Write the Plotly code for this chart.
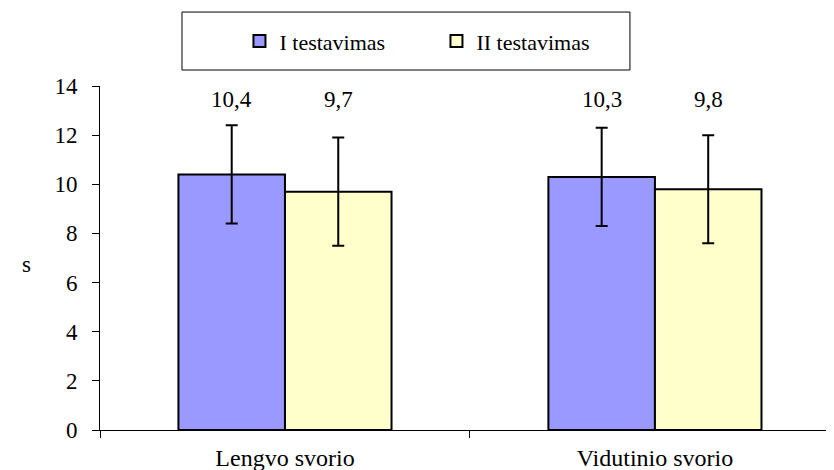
import plotly.graph_objects as go

# Data
categories = ['Lengvo svorio', 'Vidutinio svorio']
series_names = ['I testavimas', 'II testavimas']
test1_values = [10.4, 10.3]
test2_values = [9.7, 9.8]
test1_errors = [2.0, 2.0]
test2_errors = [2.2, 2.2]
test1_labels = ['10,4', '10,3']
test2_labels = ['9,7', '9,8']
y_ticks = [0, 2, 4, 6, 8, 10, 12, 14]

FONT = 'Liberation Serif'
FSIZE = 23
positions = list(range(len(categories)))

fig = go.Figure()

fig.add_trace(go.Bar(
    x=positions, y=test1_values, name=series_names[0],
    marker=dict(color='#9999FF', line=dict(color='#000000', width=2)),
    error_y=dict(type='data', array=test1_errors, color='#000000', thickness=2, width=6),
))
fig.add_trace(go.Bar(
    x=positions, y=test2_values, name=series_names[1],
    marker=dict(color='#FFFFCC', line=dict(color='#000000', width=2)),
    error_y=dict(type='data', array=test2_errors, color='#000000', thickness=2, width=6),
))

# value labels above each bar
bargap = 0.424
half = (1 - bargap) / 4
for i in positions:
    for off, txt in ((-half, test1_labels[i]), (half, test2_labels[i])):
        fig.add_annotation(x=i + off, y=13.45, text=txt, showarrow=False,
                           font=dict(family=FONT, size=FSIZE, color='#000000'))

# y axis title "s"
fig.add_annotation(x=-0.109, y=0.48, xref='paper', yref='paper', text='s',
                   showarrow=False, font=dict(family=FONT, size=FSIZE, color='#000000'))

# legend frame
fig.add_shape(type='rect', xref='paper', yref='paper',
              x0=0.1117, x1=0.722, y0=1.0465, y1=1.215,
              line=dict(color='#000000', width=1), fillcolor='rgba(0,0,0,0)')

# page body has an 8px margin, so the figure is 8px smaller and shifted
fig.update_layout(
    width=826, height=462,
    margin=dict(l=92, r=0, t=78, b=40),
    paper_bgcolor='#FFFFFF', plot_bgcolor='#FFFFFF',
    font=dict(family=FONT, size=FSIZE, color='#000000'),
    barmode='group', bargap=bargap, bargroupgap=0,
    showlegend=True,
    legend=dict(orientation='h', x=0.19, y=1.13, xanchor='left', yanchor='middle',
                bgcolor='rgba(0,0,0,0)', entrywidth=152, entrywidthmode='pixels',
                font=dict(family=FONT, size=22, color='#000000'), itemwidth=30),
    xaxis=dict(range=[-0.5, 1.484], tickvals=positions, ticktext=categories,
               ticks='', showgrid=False, showline=True, linecolor='#000000', linewidth=1,
               ticklabelstandoff=6, zeroline=False, automargin=False,
               tickfont=dict(family=FONT, size=24, color='#000000'),
               minor=dict(tickvals=[-0.5, 0.5, 1.5], ticks='outside', ticklen=7,
                          tickcolor='#000000', tickwidth=1)),
    yaxis=dict(range=[0, 14], tickvals=y_ticks, ticks='outside', ticklen=7,
               tickcolor='#000000', showgrid=False, showline=True, linecolor='#000000',
               linewidth=1, zeroline=False, ticklabelstandoff=10, automargin=False,
               tickfont=dict(family=FONT, size=FSIZE, color='#000000')),
)

fig.write_html('out.html')
